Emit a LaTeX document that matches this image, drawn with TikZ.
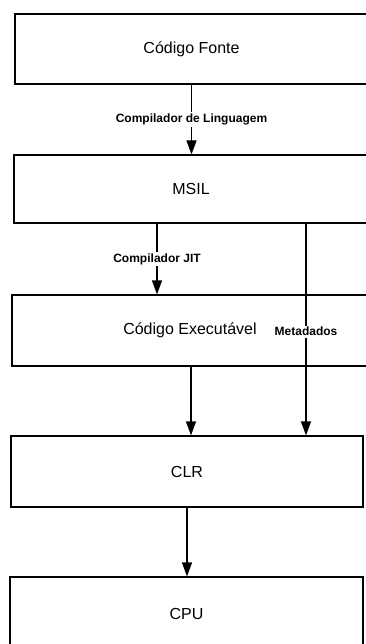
\documentclass[tikz,border=0pt]{standalone}
\usepackage{fontspec}
\setmainfont{Liberation Sans}
\usetikzlibrary{arrows.meta}
\begin{document}
\begin{tikzpicture}[x=1pt,y=-1pt,
  stagebox/.style={draw=black, line width=1.2pt, rectangle, inner sep=0pt,
    font=\fontsize{16}{19}\selectfont},
  flow/.style={draw=black, line width=1.2pt, -{Triangle[length=14pt,width=10pt]}},
  plain/.style={draw=black, line width=1.2pt},
  steplabel/.style={fill=white, inner sep=1.5pt,
    font=\bfseries\fontsize{12}{14}\selectfont}]
  \useasboundingbox (0,0) rectangle (365,644);

  % processing stages, top to bottom
  \node[stagebox, minimum width=353pt, minimum height=70pt] (src)  at (191.5,49)  {Código Fonte};
  \node[stagebox, minimum width=354pt, minimum height=68pt] (msil) at (191,189)   {MSIL};
  \node[stagebox, minimum width=356pt, minimum height=71pt] (exe)  at (190,330.5) {Código Executável};
  \node[stagebox, minimum width=352pt, minimum height=71pt] (clr)  at (187,471.5) {CLR};
  \node[stagebox, minimum width=353pt, minimum height=73pt] (cpu)  at (186.5,613.5) {CPU};

  % source -> MSIL
  \draw[flow] (src.south) -- (src.south |- msil.north)
    node[steplabel, midway] {Compilador de Linguagem};

  % MSIL -> executable code (JIT)
  \coordinate (jitTop) at ([xshift=-34pt]msil.south);
  \draw[flow] (jitTop) -- (jitTop |- exe.north)
    node[steplabel, midway] {Compilador JIT};

  % metadata path running from MSIL straight down to the CLR
  \coordinate (metaTop) at ([xshift=115pt]msil.south);
  \draw[flow] (metaTop) -- (metaTop |- clr.north)
    node[steplabel, pos=0.51] {Metadados};

  % executable code -> CLR
  \coordinate (exeOut) at ([xshift=1pt]exe.south);
  \draw[flow] (exeOut) -- (exeOut |- clr.north);

  % CLR -> CPU
  \draw[flow] (clr.south) -- (clr.south |- cpu.north);
\end{tikzpicture}
\end{document}
